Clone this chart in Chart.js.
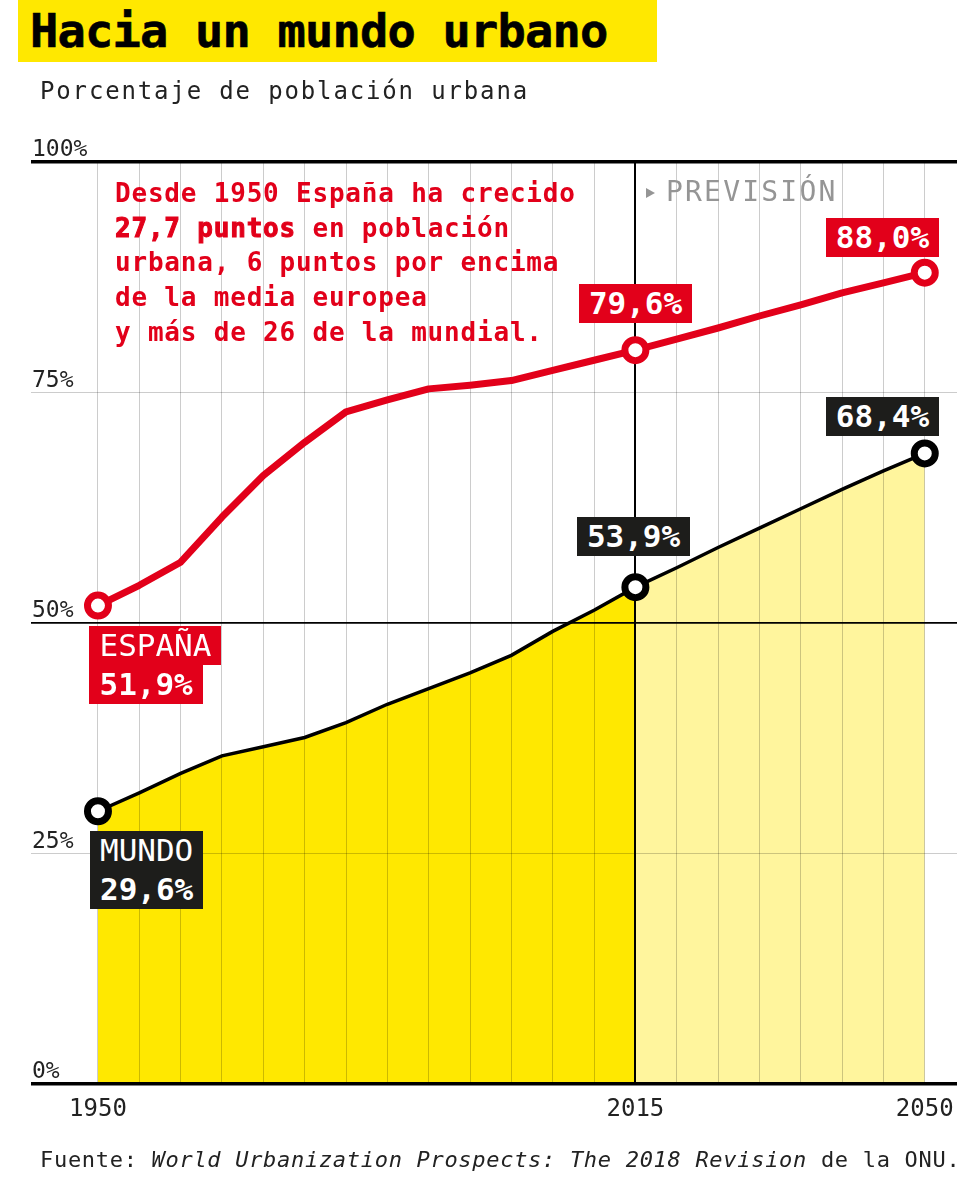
<!DOCTYPE html>
<html>
<head>
<meta charset="utf-8">
<script src="https://cdn.jsdelivr.net/npm/chart.js@4.4.1/dist/chart.umd.min.js"></script>
<style>
html,body{margin:0;padding:0;background:#fff;}
body{width:980px;height:1185px;position:relative;overflow:hidden;font-family:"DejaVu Sans Mono",monospace;}
#c{position:absolute;left:0;top:0;}
.t{position:absolute;white-space:nowrap;}
#title{left:18px;top:0;width:639px;height:62px;background:#FFE800;font-weight:bold;font-size:47px;line-height:62px;padding-left:12px;box-sizing:border-box;letter-spacing:-0.8px;color:#000;-webkit-text-stroke:0.6px #000;}
#sub{left:40px;top:76px;font-size:24px;line-height:30px;letter-spacing:1.85px;color:#222;}
#note{left:115px;top:176px;font-size:26px;line-height:34.7px;letter-spacing:0.8px;color:#E2001A;font-weight:bold;}
#note b{-webkit-text-stroke:1px #E2001A;}
#prev{left:666px;top:176px;font-size:28px;line-height:32px;letter-spacing:2.2px;color:#959595;}
#tri{position:absolute;left:646px;top:188px;width:0;height:0;border-top:5.5px solid transparent;border-bottom:5.5px solid transparent;border-left:9px solid #959595;}
#foot{left:40px;top:1145px;font-size:22px;line-height:30px;letter-spacing:0.7px;color:#222;}
#foot i{font-style:italic;}
.box{position:absolute;color:#fff;font-size:31px;line-height:39px;white-space:nowrap;}
.row{padding:0 10px;width:fit-content;}
.b{font-weight:bold;}
.red{background:#E2001A;}
.blk{background:#1d1d1b;}
</style>
</head>
<body>
<canvas id="c" width="980" height="1185"></canvas>
<div id="title" class="t">Hacia un mundo urbano</div>
<div id="sub" class="t">Porcentaje de población urbana</div>
<div id="note" class="t">Desde 1950 España ha crecido<br><b>27,7 puntos</b> en población<br>urbana, 6 puntos por encima<br>de la media europea<br>y más de 26 de la mundial.</div>
<div id="tri"></div>
<div id="prev" class="t">PREVISIÓN</div>
<div id="foot" class="t">Fuente: <i>World Urbanization Prospects: The 2018 Revision</i> de la ONU.</div>

<div id="lSp0" class="box"><div class="row red">ESPAÑA</div><div class="row red b" id="lSp0v"></div></div>
<div id="lSp1" class="box"><div class="row red b" id="lSp1v"></div></div>
<div id="lSp2" class="box"><div class="row red b" id="lSp2v"></div></div>
<div id="lW0" class="box blk"><div class="row">MUNDO</div><div class="row b" id="lW0v"></div></div>
<div id="lW1" class="box"><div class="row blk b" id="lW1v"></div></div>
<div id="lW2" class="box"><div class="row blk b" id="lW2v"></div></div>

<script>
// ---- DATA ----
const years = [1950,1955,1960,1965,1970,1975,1980,1985,1990,1995,2000,2005,2010,2015,2020,2025,2030,2035,2040,2045,2050];
const spain = [51.9,54.1,56.6,61.5,66.0,69.6,72.9,74.2,75.4,75.8,76.3,77.4,78.5,79.6,80.8,82.0,83.3,84.5,85.8,86.9,88.0];
const world = [29.6,31.6,33.7,35.6,36.6,37.6,39.2,41.2,42.9,44.6,46.5,49.1,51.4,53.9,56.0,58.2,60.3,62.4,64.5,66.5,68.4];
const markedYears = [1950, 2015, 2050];
const forecastStart = 2015;
const xTickLabels = [1950, 2015, 2050];
const yTicks = [0, 25, 50, 75, 100];

// ---- CHART ----
const FONT = '"DejaVu Sans Mono", monospace';
const RED = '#E2001A';
const toPts = arr => years.map((y, i) => ({x: y, y: arr[i]}));
const worldPts = toPts(world);
const spainPts = toPts(spain);
const histFill = worldPts.filter(p => p.x <= forecastStart);
const projFill = worldPts.filter(p => p.x >= forecastStart);
const markerRadius = ctx => (ctx.raw && markedYears.includes(ctx.raw.x)) ? 10.5 : 0;

const chart = new Chart(document.getElementById('c'), {
  type: 'line',
  data: {
    datasets: [
      {data: histFill, fill: 'origin', backgroundColor: '#FFE800', borderWidth: 0, pointRadius: 0, order: 4},
      {data: projFill, fill: 'origin', backgroundColor: '#FFF59D', borderWidth: 0, pointRadius: 0, order: 3},
      {data: worldPts, fill: false, borderColor: '#000', borderWidth: 3.5, tension: 0,
       pointRadius: markerRadius, pointBackgroundColor: '#fff', pointBorderColor: '#000', pointBorderWidth: 7, order: 2},
      {data: spainPts, fill: false, borderColor: RED, borderWidth: 7, tension: 0, borderJoinStyle: 'round',
       pointRadius: markerRadius, pointBackgroundColor: '#fff', pointBorderColor: RED, pointBorderWidth: 7, order: 1}
    ]
  },
  options: {
    responsive: false,
    animation: false,
    events: [],
    layout: {padding: {top: 162, left: 29, right: 23, bottom: 50}},
    plugins: {legend: {display: false}, tooltip: {enabled: false}, filler: {drawTime: 'beforeDraw'}},
    scales: {
      x: {
        type: 'linear', min: 1941.9, max: 2053.9,
        afterBuildTicks: axis => { axis.ticks = years.map(v => ({value: v})); },
        border: {display: false},
        grid: {
          drawTicks: false,
          color: c => (c.tick && c.tick.value === forecastStart) ? '#000' : 'rgba(0,0,0,0.2)',
          lineWidth: c => (c.tick && c.tick.value === forecastStart) ? 2 : 1
        },
        ticks: {
          autoSkip: false, maxRotation: 0, padding: 11, color: '#222',
          font: {family: FONT, size: 24},
          callback: v => xTickLabels.includes(v) ? String(v) : ''
        }
      },
      y: {
        min: 0, max: 100,
        afterBuildTicks: axis => { axis.ticks = yTicks.map(v => ({value: v})); },
        border: {display: false},
        grid: {
          drawTicks: false,
          color: c => (c.tick && [0, 50, 100].includes(c.tick.value)) ? '#000' : 'rgba(0,0,0,0.2)',
          lineWidth: c => {
            const v = c.tick ? c.tick.value : -1;
            return (v === 0 || v === 100) ? 3.5 : (v === 50 ? 1.8 : 1);
          }
        },
        ticks: {
          mirror: true, padding: 1, labelOffset: -12, color: '#222',
          font: {family: FONT, size: 23},
          callback: v => v + '%'
        }
      }
    }
  }
});

// ---- VALUE LABELS (positioned from the chart scales) ----
const fmt = v => v.toFixed(1).replace('.', ',') + '%';
const iOf = y => years.indexOf(y);
const sx = chart.scales.x, sy = chart.scales.y;
function place(id, year, value, mode, dx, dy) {
  const el = document.getElementById(id);
  const px = sx.getPixelForValue(year), py = sy.getPixelForValue(value);
  const w = el.offsetWidth, h = el.offsetHeight;
  let left, top;
  if (mode === 'cb') { left = px - w / 2 + dx; top = py + dy - h; }
  else if (mode === 'rb') { left = px + dx - w; top = py + dy - h; }
  else { left = px + dx; top = py + dy; }
  el.style.left = left + 'px';
  el.style.top = top + 'px';
}
document.getElementById('lSp0v').textContent = fmt(spain[iOf(1950)]);
document.getElementById('lSp1v').textContent = fmt(spain[iOf(2015)]);
document.getElementById('lSp2v').textContent = fmt(spain[iOf(2050)]);
document.getElementById('lW0v').textContent = fmt(world[iOf(1950)]);
document.getElementById('lW1v').textContent = fmt(world[iOf(2015)]);
document.getElementById('lW2v').textContent = fmt(world[iOf(2050)]);
place('lSp0', 1950, spain[iOf(1950)], 'lt', -8.5, 20);
place('lSp1', 2015, spain[iOf(2015)], 'cb', 0, -27);
place('lSp2', 2050, spain[iOf(2050)], 'rb', 14, -16);
place('lW0', 1950, world[iOf(1950)], 'lt', -8, 20);
place('lW1', 2015, world[iOf(2015)], 'cb', -2, -31);
place('lW2', 2050, world[iOf(2050)], 'rb', 14, -17);
</script>
</body>
</html>
